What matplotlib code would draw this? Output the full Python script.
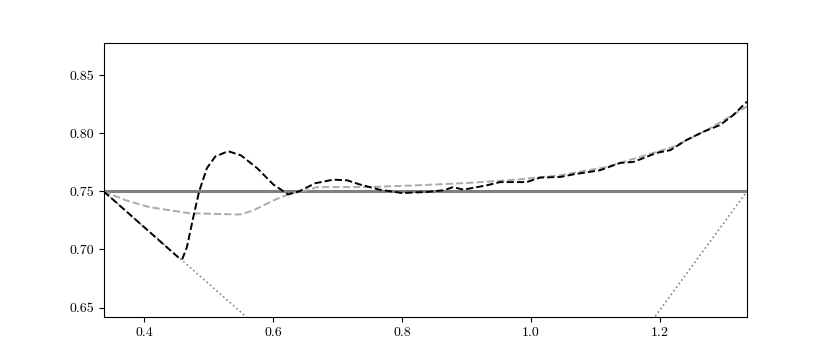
import numpy as np
import matplotlib.pyplot as plt

plt.rcParams['font.family'] = 'serif'
plt.rcParams['font.serif'] = ['cmr10']
plt.rcParams['mathtext.fontset'] = 'cm'
plt.rcParams['axes.formatter.use_mathtext'] = True

# level line
level = 0.75

# black dashed curve
x_black = [0.337, 0.452, 0.459, 0.466, 0.476, 0.485, 0.497, 0.510, 0.530, 0.550, 0.575, 0.600,
           0.623, 0.640, 0.665, 0.693, 0.715, 0.734, 0.765, 0.800, 0.838, 0.865, 0.879,
           0.895, 0.931, 0.952, 0.993, 1.014, 1.045, 1.066, 1.107, 1.138, 1.159, 1.195,
           1.216, 1.241, 1.267, 1.293, 1.314, 1.335]
y_black = [0.750, 0.6935, 0.692, 0.702, 0.728, 0.750, 0.770, 0.780, 0.7846, 0.781, 0.770, 0.756,
           0.7474, 0.750, 0.757, 0.7601, 0.7595, 0.756, 0.7515, 0.7486, 0.7495, 0.751, 0.7537,
           0.7515, 0.7552, 0.758, 0.758, 0.7619, 0.7624, 0.7647, 0.7682, 0.7745, 0.7754, 0.7832,
           0.7855, 0.7942, 0.8013, 0.8071, 0.8158, 0.8273]

# grey dashed curve
x_grey = [0.337, 0.372, 0.408, 0.470, 0.548, 0.569, 0.600, 0.626, 0.657, 0.667, 0.745,
          0.822, 0.900, 0.977, 1.045, 1.117, 1.221, 1.273, 1.335]
y_grey = [0.750, 0.7422, 0.7364, 0.7312, 0.7301, 0.7336, 0.7422, 0.748, 0.7515, 0.7537, 0.7537,
          0.7552, 0.7572, 0.7601, 0.7639, 0.771, 0.7884, 0.8028, 0.8231]

# dotted bounds
x_low = [0.337, 0.60]
y_low = [0.750, 0.6215]
x_high = [1.16, 1.335]
y_high = [0.618, 0.750]

fig, ax = plt.subplots(figsize=(8.3, 3.56), dpi=100)
ax.axhline(level, color='#808080', lw=2.2, zorder=1)
ax.plot(x_low, y_low, ':', color='#888888', lw=1.2)
ax.plot(x_high, y_high, ':', color='#888888', lw=1.2)
ax.plot(x_grey, y_grey, '--', color='#aaaaaa', lw=1.4)
ax.plot(x_black, y_black, '--', color='black', lw=1.4)

ax.set_xlim(0.337, 1.335)
ax.set_ylim(0.642, 0.878)
ax.set_xticks([0.4, 0.6, 0.8, 1.0, 1.2])
ax.set_yticks([0.65, 0.70, 0.75, 0.80, 0.85])
ax.set_xticklabels(['0.4', '0.6', '0.8', '1.0', '1.2'])
ax.set_yticklabels(['0.65', '0.70', '0.75', '0.80', '0.85'])

fig.savefig('out.png')
